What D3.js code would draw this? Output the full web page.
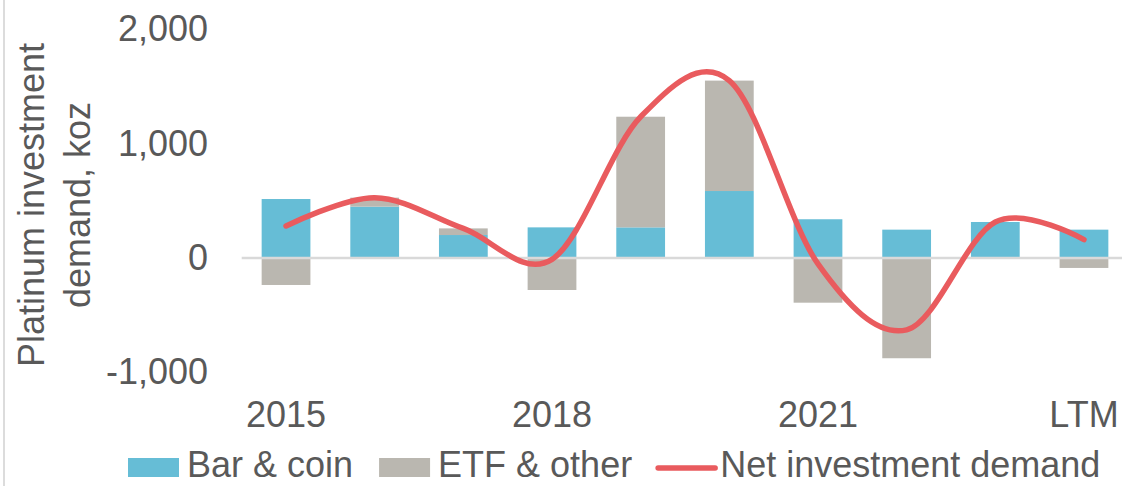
<!DOCTYPE html>
<html>
<head>
<meta charset="utf-8">
<script src="https://cdn.jsdelivr.net/npm/d3@7"></script>
<style>
  body { margin: 0; background: #fff; }
  text { font-family: "Liberation Sans", Arial, sans-serif; fill: #595959; }
</style>
</head>
<body>
<div class="chart"></div>
<script>
// size of the picture
let svg_width = 1122;
let svg_height = 486;

// data (koz)
let categories = ["2015", "2016", "2017", "2018", "2019", "2020", "2021", "2022", "2023", "LTM"];
let bar_coin   = [516, 449, 201, 268, 268, 586, 339, 248, 315, 248];
let etf_other  = [-236, 79, 58, -280, 968, 966, -391, -877, 0, -87];
let net_demand = [280, 528, 259, -12, 1236, 1552, -52, -629, 315, 161];
let y_ticks    = [-1000, 0, 1000, 2000];
let x_labels   = ["2015", "2018", "2021", "LTM"];
let series_names = ["Bar & coin", "ETF & other", "Net investment demand"];

// colors
let blue = "#66BDD6";
let grey = "#BAB7B0";
let red  = "#E95B5E";

// plot area
let plot_left = 241.7, plot_right = 1128.3;
let plot_top = 29.4, plot_bottom = 372.3;

let x_scale = d3.scaleBand()
                .domain(categories)
                .range([plot_left, plot_right])
                .paddingInner(0.45)
                .paddingOuter(0.225);

let y_scale = d3.scaleLinear()
                .domain([-1000, 2000])
                .range([plot_bottom, plot_top]);

let svg = d3.select('.chart')
            .append('svg')
            .attr('width', svg_width)
            .attr('height', svg_height);

// thin border at the left edge of the original screenshot
svg.append('line')
   .attr('x1', 4).attr('x2', 4)
   .attr('y1', 0).attr('y2', svg_height)
   .attr('stroke', '#D0D0D0')
   .attr('stroke-width', 1.5);

// stacked bars, positives up and negatives down
let rows = categories.map(function(c, i) {
    return { cat: c, bar: bar_coin[i], etf: etf_other[i] };
});
let stacked = d3.stack()
                .keys(['bar', 'etf'])
                .offset(d3.stackOffsetDiverging)(rows);
let fills = { bar: blue, etf: grey };

svg.selectAll('g.series')
   .data(stacked)
   .enter()
   .append('g')
   .attr('class', 'series')
   .attr('fill', function(s) { return fills[s.key]; })
   .selectAll('rect')
   .data(function(s) { return s; })
   .enter()
   .append('rect')
   .attr('x', function(d) { return x_scale(d.data.cat); })
   .attr('y', function(d) { return y_scale(Math.max(d[0], d[1])); })
   .attr('width', x_scale.bandwidth())
   .attr('height', function(d) { return Math.abs(y_scale(d[0]) - y_scale(d[1])); });

// zero line
svg.append('line')
   .attr('x1', plot_left).attr('x2', svg_width)
   .attr('y1', y_scale(0)).attr('y2', y_scale(0))
   .attr('stroke', '#D9D9D9')
   .attr('stroke-width', 2.5);

// smoothed net line (same smoothing as Excel)
let line = d3.line()
             .x(function(d, i) { return x_scale(categories[i]) + x_scale.bandwidth() / 2; })
             .y(function(d) { return y_scale(d); })
             .curve(d3.curveCatmullRom.alpha(0));

svg.append('path')
   .datum(net_demand)
   .attr('d', line)
   .attr('fill', 'none')
   .attr('stroke', red)
   .attr('stroke-width', 5.5)
   .attr('stroke-linecap', 'round');

// y axis labels (plain hyphen for negatives, like the original)
let fmt = d3.format(',');
let y_axis = d3.axisLeft(y_scale)
               .tickValues(y_ticks)
               .tickFormat(function(d) { return fmt(d).replace('\u2212', '-'); })
               .tickSize(0)
               .tickPadding(0);
let gy = svg.append('g')
            .attr('transform', 'translate(208,0)')
            .call(y_axis);
gy.select('.domain').remove();
gy.selectAll('text')
  .attr('font-size', 36)
  .attr('font-family', '"Liberation Sans", Arial, sans-serif')
  .attr('fill', '#595959');

// x axis labels
let x_axis = d3.axisBottom(x_scale)
               .tickValues(x_labels)
               .tickSize(0)
               .tickPadding(0);
let gx = svg.append('g')
            .attr('transform', 'translate(0,' + 400 + ')')
            .call(x_axis);
gx.select('.domain').remove();
gx.selectAll('text')
  .attr('y', 27)
  .attr('dy', null)
  .attr('font-size', 36)
  .attr('font-family', '"Liberation Sans", Arial, sans-serif')
  .attr('fill', '#595959');

// y axis title, two lines
let title_lines = ["Platinum investment", "demand, koz"];
svg.selectAll('text.ytitle')
   .data(title_lines)
   .enter()
   .append('text')
   .attr('class', 'ytitle')
   .attr('transform', function(d, i) { return 'translate(' + (44 + i * 46) + ',205) rotate(-90)'; })
   .attr('text-anchor', 'middle')
   .attr('font-size', 36)
   .text(function(d) { return d; });

// legend
let legend = svg.append('g');
let lx = 128;
series_names.forEach(function(name, i) {
    let sw = (i == 2) ? 57 : 51;
    let tx = (i == 2) ? 62 : 59;
    if (i < 2) {
        legend.append('rect')
              .attr('x', lx).attr('y', 458)
              .attr('width', sw).attr('height', 19)
              .attr('fill', i == 0 ? blue : grey);
    } else {
        legend.append('line')
              .attr('x1', lx).attr('x2', lx + sw)
              .attr('y1', 468).attr('y2', 468)
              .attr('stroke', red)
              .attr('stroke-width', 5.5)
              .attr('stroke-linecap', 'round');
    }
    let t = legend.append('text')
                  .attr('x', lx + tx)
                  .attr('y', 477)
                  .attr('font-size', 36)
                  .text(name);
    lx = lx + tx + t.node().getComputedTextLength() + 26;
});
</script>
</body>
</html>
